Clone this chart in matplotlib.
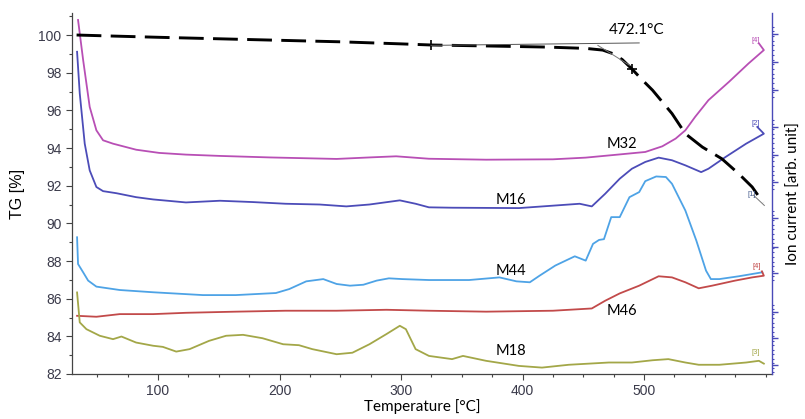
import numpy as np
import matplotlib
matplotlib.use("Agg")
import matplotlib.pyplot as plt
from matplotlib.ticker import MultipleLocator, FixedLocator

# TG curve (mass %)
tg_t = [33, 60, 100, 150, 200, 250, 300, 325, 370, 420, 452, 466, 474, 482, 490, 498,
        507, 515, 523, 534, 548, 564, 578, 589, 598]
tg_v = [100.0, 99.95, 99.88, 99.8, 99.72, 99.64, 99.53, 99.47, 99.42, 99.36, 99.29, 99.2,
        99.02, 98.7, 98.2, 97.65, 97.07, 96.45, 95.83, 94.76, 94.05, 93.43, 92.63, 91.93, 91.1]
tg_marks_t = [324.7, 490.4]
onset_label = "472.1°C"

# ion currents, drawn on the TG scale
m32_t = [34.2, 38.4, 43.8, 49.3, 54.8, 63, 82, 101, 123, 151, 192, 247, 274, 296, 323, 370,
         425, 452, 480, 501, 515, 526, 534, 542, 553, 570, 586, 598.6, 594.5]
m32_v = [100.8, 98.67, 96.18, 94.94, 94.41, 94.23, 93.91, 93.74, 93.65, 93.58, 93.5, 93.42,
         93.5, 93.56, 93.43, 93.38, 93.4, 93.49, 93.66, 93.79, 94.09, 94.5, 94.94, 95.65,
         96.54, 97.52, 98.49, 99.2, 99.56]

m16_t = [33.4, 35.6, 39.7, 43.8, 49.3, 54.8, 65.8, 82, 96, 123, 151, 178, 205, 233, 255,
         274, 299, 312, 323, 342, 397, 447, 457, 468, 480, 490, 501, 512, 523, 534, 547,
         553, 567, 584, 598.6, 593.2]
m16_v = [99.11, 96.9, 94.23, 92.81, 91.93, 91.71, 91.6, 91.39, 91.27, 91.11, 91.2, 91.13,
         91.04, 91.0, 90.9, 91.0, 91.22, 91.04, 90.85, 90.83, 90.81, 91.04, 90.9, 91.57,
         92.37, 92.9, 93.26, 93.49, 93.35, 93.08, 92.72, 92.9, 93.52, 94.23, 94.76, 95.12]

m44_t = [33.4, 34.2, 38.4, 42.5, 49.3, 68.5, 96, 137, 164, 197, 208, 222, 236, 247, 258,
         269, 280, 290, 301, 323, 356, 381, 395, 406, 414, 427, 443, 452, 458, 463, 467,
         473, 480, 488, 496, 501, 510, 518, 523, 534, 543, 551, 555, 562, 578, 597.3]
m44_v = [89.26, 87.84, 87.4, 86.96, 86.64, 86.46, 86.34, 86.19, 86.19, 86.3, 86.51, 86.92,
         87.04, 86.78, 86.69, 86.74, 86.96, 87.08, 87.04, 86.99, 86.99, 87.13, 86.92, 86.87,
         87.22, 87.76, 88.25, 88.02, 88.91, 89.12, 89.16, 90.33, 90.33, 91.39, 91.66, 92.24,
         92.49, 92.46, 92.1, 90.68, 89.09, 87.49, 87.04, 87.04, 87.19, 87.4]

m46_t = [33.4, 49.3, 68.5, 96, 123, 164, 205, 247, 288, 323, 370, 425, 457, 468, 480, 496,
         512, 523, 534, 545, 556, 575, 589, 598.6, 597]
m46_v = [85.09, 85.04, 85.18, 85.18, 85.25, 85.31, 85.36, 85.36, 85.41, 85.36, 85.31, 85.36,
         85.48, 85.89, 86.28, 86.69, 87.19, 87.13, 86.87, 86.55, 86.69, 86.96, 87.13, 87.22,
         87.45]

m18_t = [33.4, 35.6, 41.1, 52.1, 63, 69.9, 82, 96, 104, 115, 126, 142, 156, 170, 186, 203,
         216, 227, 247, 260, 274, 288, 299, 304, 312, 323, 342, 351, 370, 397, 416, 438,
         471, 490, 507, 520, 534, 545, 562, 584, 594.5, 598.6]
m18_v = [86.33, 84.74, 84.38, 84.03, 83.85, 83.99, 83.67, 83.5, 83.44, 83.19, 83.32, 83.76,
         84.03, 84.08, 83.9, 83.58, 83.53, 83.32, 83.05, 83.13, 83.58, 84.12, 84.56, 84.38,
         83.32, 82.96, 82.79, 82.96, 82.7, 82.43, 82.34, 82.49, 82.61, 82.61, 82.73, 82.79,
         82.61, 82.49, 82.49, 82.61, 82.7, 82.55]

ion_names = ["M32", "M16", "M44", "M46", "M18"]
ion_tags = ["[4]", "[2]", "[4]", "[1]", "[3]"]
ion_colors = ["#b84fb5", "#4c4cb8", "#4ea3e6", "#c24a4a", "#a3a748"]

plt.rcParams["font.family"] = ["Liberation Sans", "DejaVu Sans"]

fig = plt.figure(figsize=(8.05, 4.19), dpi=100)
ax = fig.add_axes([0.0894, 0.1074, 0.8696, 0.8616])

series = [(m32_t, m32_v), (m16_t, m16_v), (m44_t, m44_v), (m46_t, m46_v), (m18_t, m18_v)]
for (t, v), c in zip(series, ion_colors):
    ax.plot(t, v, color=c, lw=1.3, zorder=3)

ax.plot(tg_t, tg_v, color="black", lw=2.1, ls=(0, (8.5, 3.2)), zorder=4)
ax.plot(tg_marks_t, np.interp(tg_marks_t, tg_t, tg_v), "+", color="black",
        ms=7, mew=1.2, zorder=5)
# onset construction lines
ax.plot([324.7, 496], [99.45, 99.58], color="#555555", lw=0.7, zorder=5)
ax.plot([462, 488], [99.45, 98.4], color="#777777", lw=0.7, zorder=5)
ax.plot([590, 599], [91.5, 90.95], color="#777777", lw=0.7, zorder=5)
ax.text(494, 100.28, onset_label, fontsize=11, family="Lato", ha="center", va="center")

label_pos = [(481.4, 94.23), (390.4, 91.22), (390.7, 87.49), (481.6, 85.36), (390.4, 83.23)]
for name, (x, y) in zip(ion_names, label_pos):
    ax.text(x, y, name, fontsize=10.5, family="Lato", ha="center", va="center", zorder=6)

tag_pos = [(591.8, 99.73), (591.8, 95.3), (592.5, 87.7), (588.5, 91.55), (591.8, 83.14)]
tag_colors = [ion_colors[0], ion_colors[1], ion_colors[3], "#4a6090", ion_colors[4]]
for tag, (x, y), c in zip(ion_tags, tag_pos, tag_colors):
    ax.text(x, y, tag, fontsize=5.5, color=c, ha="center", va="center", zorder=6)

ax.set_xlim(29.2, 605.3)
ax.set_ylim(82, 101.17)
ax.xaxis.set_major_locator(FixedLocator([100, 200, 300, 400, 500]))
ax.xaxis.set_minor_locator(MultipleLocator(25))
ax.yaxis.set_major_locator(MultipleLocator(2))
ax.yaxis.set_minor_locator(MultipleLocator(1))
ax.tick_params(which="major", length=4, width=0.8, color="#444444",
               labelsize=10, labelcolor="#3a3a4a")
ax.tick_params(which="minor", length=2.5, width=0.8, color="#444444")
ax.tick_params(axis="x", pad=3)

for s in ["top", "right"]:
    ax.spines[s].set_visible(False)
for s in ["left", "bottom"]:
    ax.spines[s].set_color("#444444")
    ax.spines[s].set_linewidth(0.9)

ax.set_xlabel("Temperature [°C]", fontsize=11, family="Lato", labelpad=1)
ax.set_ylabel("TG [%]", fontsize=11.5, labelpad=10)

# right axis for ion currents, ticks only
ax2 = ax.twinx()
ax2.set_ylim(0, 1)
right_major = [0.942, 0.864, 0.787, 0.684, 0.607, 0.532, 0.432, 0.352, 0.280, 0.172, 0.0997, 0.025]
right_minor = []
for i in range(0, len(right_major), 3):
    a, b = right_major[i + 2], right_major[i]
    right_minor += list(np.linspace(a - 0.02, b + 0.02, 16))
ax2.yaxis.set_major_locator(FixedLocator(right_major))
ax2.yaxis.set_minor_locator(FixedLocator(right_minor))
ax2.tick_params(which="major", length=4, width=1.0, color="#4a4ab8", labelright=False)
ax2.tick_params(which="minor", length=1.5, width=0.8, color="#4a4ab8")
for s in ["top", "left", "bottom"]:
    ax2.spines[s].set_visible(False)
ax2.spines["right"].set_color("#4a4ab8")
ax2.spines["right"].set_linewidth(1.0)
ax2.set_ylabel("Ion current [arb. unit]", fontsize=11, family="Lato", labelpad=6)

fig.savefig("out.png", dpi=100)
